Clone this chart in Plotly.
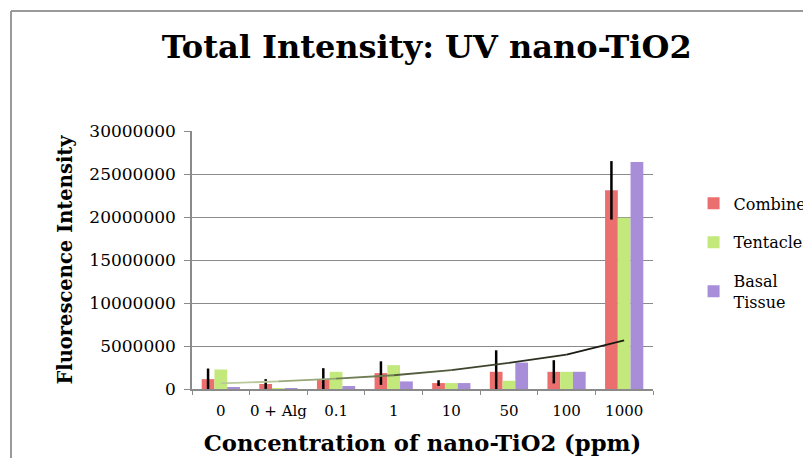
import plotly.graph_objects as go

categories = ["0", "0 + Alg", "0.1", "1", "10", "50", "100", "1000"]
combined = [1.15e6, 0.58e6, 1.15e6, 1.85e6, 0.69e6, 2.0e6, 2.0e6, 23.1e6]
combined_err = [1.23e6, 0.57e6, 1.27e6, 1.37e6, 0.33e6, 2.5e6, 1.35e6, 3.4e6]
tentacles = [2.27e6, 0.1e6, 2.0e6, 2.77e6, 0.69e6, 0.96e6, 2.0e6, 19.9e6]
basal = [0.23e6, 0.03e6, 0.35e6, 0.88e6, 0.69e6, 3.07e6, 2.0e6, 26.4e6]
trend = [0.65e6, 0.88e6, 1.2e6, 1.6e6, 2.2e6, 3.05e6, 4.0e6, 5.65e6]
y_ticks = [0, 5e6, 10e6, 15e6, 20e6, 25e6, 30e6]

FONT = "DejaVu Serif"
W, H = 803, 450          # page body has an 8px margin
L, R, T, B = 184, 158, 123, 69
PW, PH = W - L - R, H - T - B

fig = go.Figure()

err_minus = [min(e, v) for e, v in zip(combined_err, combined)]
fig.add_trace(go.Bar(
    x=categories, y=combined, name="Combined",
    marker=dict(color="#ec6f6f", line=dict(width=0)),
    error_y=dict(type="data", array=combined_err, arrayminus=err_minus,
                 color="black", thickness=2.5, width=0),
    legendgroup="a",
))
fig.add_trace(go.Bar(
    x=categories, y=tentacles, name="Tentacles",
    marker=dict(color="#c3e97c", line=dict(width=0)), legendgroup="b",
))
fig.add_trace(go.Bar(
    x=categories, y=basal, name="Basal<br>Tissue",
    marker=dict(color="#a88dd8", line=dict(width=0)), legendgroup="c",
))

seg_colors = ["#b9c99a", "#98a878", "#6f7d55", "#535e3e", "#3e452e", "#2b2f20", "#1a1c14"]
for i in range(len(categories) - 1):
    fig.add_trace(go.Scatter(
        x=categories[i:i + 2], y=trend[i:i + 2], mode="lines",
        line=dict(color=seg_colors[i], width=1.8),
        showlegend=False, hoverinfo="skip",
    ))

fx = (3 - L) / PW
fy = (H - B - 3) / PH

fig.update_layout(
    width=W, height=H,
    margin=dict(l=L, r=R, t=T, b=B, autoexpand=False),
    paper_bgcolor="white", plot_bgcolor="white",
    barmode="group", bargap=0.336, bargroupgap=0,
    font=dict(family=FONT, size=15, color="black"),
    title=dict(text="Total Intensity: UV nano-TiO2", x=0.509, xanchor="center",
               xref="paper", y=1 - 39 / H, yanchor="middle", yref="container",
               font=dict(family=FONT, size=32, weight="bold", color="black")),
    legend=dict(x=1.088, y=0.785, xanchor="left", yanchor="top",
                font=dict(family=FONT, size=16), tracegroupgap=15,
                itemwidth=30, bgcolor="rgba(0,0,0,0)"),
    xaxis=dict(
        type="category", showline=True, linecolor="#8a8a8a", linewidth=1.5,
        ticks="outside", tickson="boundaries", ticklen=4, tickcolor="#8a8a8a",
        tickfont=dict(family=FONT, size=15), tickangle=0, showgrid=False,
        automargin=False, ticklabelstandoff=7,
        title=dict(text="Concentration of nano-TiO2 (ppm)", standoff=16,
                   font=dict(family=FONT, size=22.7, weight="bold")),
    ),
    yaxis=dict(
        range=[0, 30e6], tickvals=y_ticks, tickformat="d",
        showline=True, linecolor="#8a8a8a", linewidth=1.5,
        ticks="outside", ticklen=6, tickcolor="#8a8a8a",
        showgrid=True, gridcolor="#8a8a8a", gridwidth=1.3,
        zeroline=False, tickfont=dict(family=FONT, size=17), automargin=False,
        ticklabelstandoff=5,
        title=dict(text="Fluorescence Intensity", standoff=11,
                   font=dict(family=FONT, size=19.5, weight="bold")),
    ),
    shapes=[
        dict(type="line", xref="paper", yref="paper", x0=fx, x1=1.5, y0=fy, y1=fy,
             line=dict(color="#9a9a9a", width=2)),
        dict(type="line", xref="paper", yref="paper", x0=fx, x1=fx, y0=-0.5, y1=fy,
             line=dict(color="#9a9a9a", width=2)),
    ],
)

fig.write_html("out.html")
